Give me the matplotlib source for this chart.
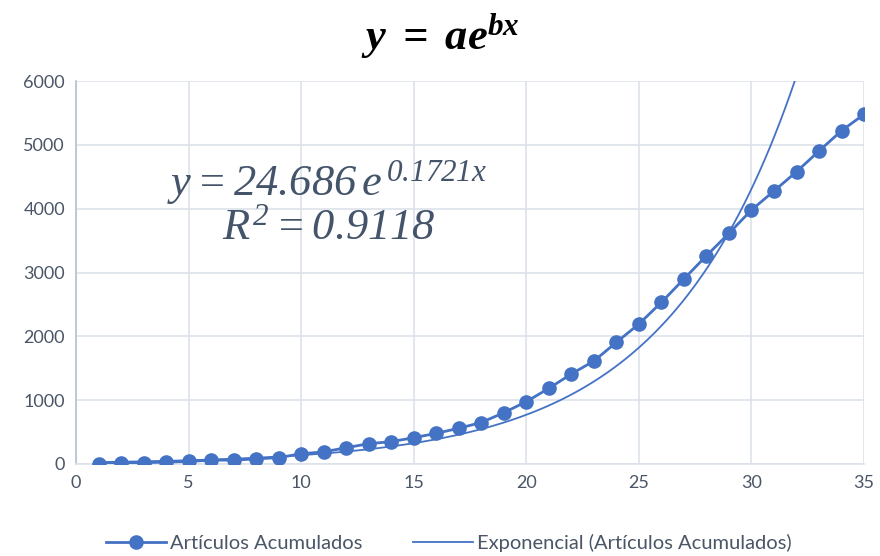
import numpy as np
import matplotlib
matplotlib.use("Agg")
import matplotlib.pyplot as plt

# datos
dias = list(range(1, 36))
acumulados = [5, 8, 20, 30, 40, 60, 60, 80, 100, 160,
              190, 255, 318, 350, 412, 480, 560, 650, 804, 977,
              1186, 1411, 1614, 1907, 2194, 2534, 2900, 3265, 3616, 3981,
              4279, 4581, 4906, 5224, 5481]

# coeficientes de la linea de tendencia exponencial
a = 24.686
b = 0.1721
r2 = 0.9118

azul = "#4472C4"
gris_texto = "#4A5566"
gris_grid = "#DDE2EA"

plt.rcParams["mathtext.fontset"] = "custom"
plt.rcParams["mathtext.rm"] = "Liberation Serif:italic"
plt.rcParams["mathtext.it"] = "Liberation Serif:italic"
plt.rcParams["mathtext.bf"] = "Liberation Serif:bold:italic"
plt.rcParams["mathtext.bfit"] = "Liberation Serif:bold:italic"
plt.rcParams["font.family"] = ["Lato", "DejaVu Sans"]

fig = plt.figure(figsize=(8.8, 5.56), dpi=100)
ax = fig.add_axes([0.0864, 0.1655, 0.8955, 0.6885])

x_tend = np.linspace(dias[0], dias[-1], 300)
y_tend = a * np.exp(b * x_tend)
ax.plot(x_tend, y_tend, color=azul, linewidth=1.3,
        label="Exponencial (Artículos Acumulados)", zorder=3)
ax.plot(dias, acumulados, color=azul, linewidth=2.0, marker="o",
        markersize=9.5, label="Artículos Acumulados", zorder=4)

ax.set_xlim(0, 35)
ax.set_ylim(0, 6000)
ax.set_xticks(range(0, 36, 5))
ax.set_yticks(range(0, 6001, 1000))
ax.grid(True, color=gris_grid, linewidth=1.2)
ax.set_axisbelow(True)
ax.tick_params(length=0, labelsize=13, colors=gris_texto, pad=8)
for lado in ["top", "right"]:
    ax.spines[lado].set_visible(False)
ax.spines["bottom"].set_color(gris_grid)
ax.spines["bottom"].set_linewidth(1.2)
ax.spines["left"].set_color("#B4C0D4")
ax.spines["left"].set_linewidth(1.2)

fig.text(0.5, 0.935, r"$\mathbf{y\ =\ ae^{bx}}$", ha="center", va="center",
         fontsize=32, color="black")

ax.text(0.115, 0.734, r"$y = 24.686\,e^{\,0.1721x}$", transform=ax.transAxes,
        ha="left", va="center", fontsize=32, color="#44546A")
ax.text(0.185, 0.62, r"$R^{2} = 0.9118$", transform=ax.transAxes,
        ha="left", va="center", fontsize=32, color="#44546A")

h, l = ax.get_legend_handles_labels()
fig.legend(h[::-1], l[::-1], loc="lower center", bbox_to_anchor=(0.51, -0.025),
           ncol=2, frameon=False, fontsize=14.5, labelcolor=gris_texto,
           handlelength=3.0, handletextpad=0.2, columnspacing=2.5)

fig.savefig("out.png", dpi=100)
